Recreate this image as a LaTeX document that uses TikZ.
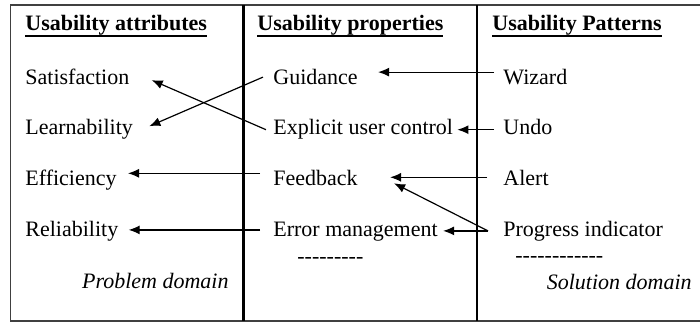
\documentclass[tikz,border=0pt]{standalone}
\usepackage{fontspec}
\setmainfont{Liberation Serif}
\usetikzlibrary{positioning,arrows.meta}
\newcommand{\hy}{-\kern0pt}
\newcommand{\hul}[1]{\setbox0\hbox{#1}\rlap{\rule[-3.1pt]{\wd0}{0.9pt}}\box0}

\begin{document}
\begin{tikzpicture}
		[x=0.5pt, y=-0.5pt, >={Latex[length=5.5pt,width=4.5pt]},
		head/.style={font=\fontsize{11}{13}\selectfont\bfseries, inner sep=0pt},
		item/.style={font=\fontsize{11}{13}\selectfont, inner sep=0pt, text height=7.5pt, text depth=2.4pt},
		note/.style={font=\fontsize{11}{13}\selectfont\itshape, inner sep=0pt},
		link/.style={->, line width=0.6pt}]
		\useasboundingbox (0,0) rectangle (700,322);
		\draw [black!75, line width=0.8pt] (700,5) -- (10.5,5) -- (10.5,321) -- (700,321);
		\draw [line width=1.4pt] (243.5,5) -- (243.5,321);
		\draw [line width=0.9pt] (477,5) -- (477,321);

		\node [head, anchor=base west] (attr) at (25,30.7) {\hul{Usability attributes}};
		\node [head, anchor=base west] (prop) at (257,30.7) {\hul{Usability properties}};
		\node [head, anchor=base west] (pat) at (492,30.7) {\hul{Usability Patterns}};

		\node [item] (sat) [below=26.75pt of attr.base west, anchor=base west] {Satisfaction};
		\node [item] (learn) [below=25.3pt of sat.base west, anchor=base west] {Learnability};
		\node [item] (eff) [below=25.3pt of learn.base west, anchor=base west] {Efficiency};
		\node [item] (rel) [below=25.3pt of eff.base west, anchor=base west] {Reliability};

		\node [item] (guid) [below=26.75pt of prop.base west, anchor=base west, xshift=8pt] {Guidance};
		\node [item] (expl) [below=25.3pt of guid.base west, anchor=base west] {Explicit user control};
		\node [item] (feed) [below=25.3pt of expl.base west, anchor=base west] {Feedback};
		\node [item] (err) [below=25.3pt of feed.base west, anchor=base west] {Error management};

		\node [item] (wiz) [below=26.75pt of pat.base west, anchor=base west, xshift=5.5pt] {Wizard};
		\node [item] (undo) [below=25.3pt of wiz.base west, anchor=base west] {Undo};
		\node [item] (alert) [below=25.3pt of undo.base west, anchor=base west] {Alert};
		\node [item] (prog) [below=25.3pt of alert.base west, anchor=base west] {Progress indicator};

		\node [item, anchor=base west] (dmid) at (297,263) {\hy\hy\hy\hy\hy\hy\hy\hy\hy};
		\node [item, anchor=base west] (dright) at (515,262) {\hy\hy\hy\hy\hy\hy\hy\hy\hy\hy\hy\hy};
		\node [note, anchor=base east] (prob) at (229,288) {Problem domain};
		\node [note, anchor=base east] (sol) at (692,289) {Solution domain};

		\draw [link] ([xshift=-5pt,yshift=1pt]guid.west) -- ([xshift=8pt,yshift=1.75pt]learn.east);
		\draw [link] ([xshift=-3.5pt]expl.west) -- ([xshift=11pt,yshift=-0.5pt]sat.east);
		\draw [link] ([xshift=-6.5pt,yshift=3.5pt]feed.west) -- ([xshift=5.5pt,yshift=3.5pt]eff.east);
		\draw [link] ([xshift=-6.5pt,yshift=0.5pt]err.west) -- ([xshift=5pt,yshift=0.5pt]rel.east);

		\draw [link] ([xshift=-4.5pt,yshift=3.5pt]wiz.west) -- ([xshift=10pt,yshift=3.5pt]guid.east);
		\draw [link] ([xshift=-4.5pt]undo.west) -- ([xshift=2pt]expl.east);
		\draw [link] ([xshift=-8pt,yshift=1.5pt]alert.west) -- ([xshift=16pt,yshift=1.5pt]feed.east);
		\draw [link] ([xshift=-7.5pt]prog.west) -- ([xshift=18pt,yshift=-1.5pt]feed.east);
		\draw [link] ([xshift=-7.5pt]prog.west) -- ([xshift=2.5pt]err.east);

	\end{tikzpicture}
\end{document}
